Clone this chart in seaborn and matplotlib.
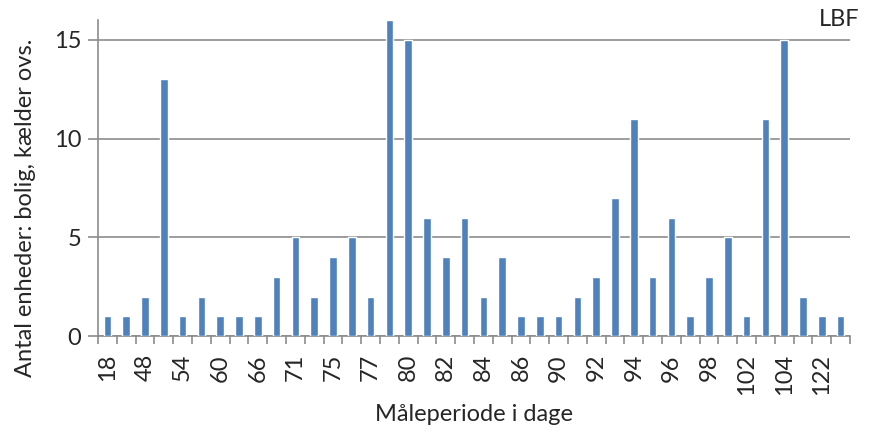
import matplotlib
matplotlib.use("Agg")
import matplotlib.pyplot as plt
import seaborn as sns
import numpy as np
import pandas as pd

# Categories (every other label is shown on the axis; hidden ones are estimates)
categories = ["18", "44", "48", "52", "54", "58", "60", "64", "66", "70",
              "71", "74", "75", "76", "77", "78", "80", "81", "82", "83",
              "84", "85", "86", "88", "90", "91", "92", "93", "94", "95",
              "96", "97", "98", "100", "102", "103", "104", "110", "122", "130"]
values = [1, 1, 2, 13, 1, 2, 1, 1, 1, 3,
          5, 2, 4, 5, 2, 16, 15, 6, 4, 6,
          2, 4, 1, 1, 1, 2, 3, 7, 11, 3,
          6, 1, 3, 5, 1, 11, 15, 2, 1, 1]
y_ticks = [0, 5, 10, 15]

sns.set_theme(style="white")
plt.rcParams['font.family'] = ['Lato', 'DejaVu Sans']

FS = 17
df = pd.DataFrame({"cat": categories, "val": values})

fig = plt.figure(figsize=(8.73, 4.37), dpi=100)
ax = fig.add_axes([0.1123, 0.2311, 0.8614, 0.7229])

sns.barplot(data=df, x="cat", y="val", order=categories, color="#4F81BD",
            saturation=1, width=0.4, ax=ax, zorder=3)

ax.set_ylim(0, 16)
ax.set_xlim(-0.5, len(categories) - 0.5)
ax.set_yticks(y_ticks)
ax.set_yticklabels([str(t) for t in y_ticks], fontsize=FS)
ax.yaxis.grid(True, color="#8C8C8C", linewidth=1.2, zorder=0)
ax.set_axisbelow(True)

idx = np.arange(0, len(categories), 2)
ax.set_xticks(idx)
ax.set_xticklabels([categories[i] for i in idx], rotation=90, fontsize=FS)
ax.set_xticks(np.arange(-0.5, len(categories), 1), minor=True)
ax.tick_params(axis="x", which="major", length=0, pad=13)
ax.tick_params(axis="x", which="minor", length=6, width=1.2, color="#8C8C8C", direction="out", bottom=True)
ax.tick_params(axis="y", which="major", length=7, width=1.2, color="#8C8C8C", direction="out", left=True, pad=5)

for s in ["top", "right"]:
    ax.spines[s].set_visible(False)
for s in ["left", "bottom"]:
    ax.spines[s].set_color("#8C8C8C")
    ax.spines[s].set_linewidth(1.2)

ax.set_xlabel("Måleperiode i dage", fontsize=FS)
ax.set_ylabel("Antal enheder: bolig, kælder ovs.", fontsize=FS)
ax.yaxis.set_label_coords(-0.083, 0.407)
ax.xaxis.set_label_coords(0.5, -0.215)

fig.text(0.985, 0.955, "LBF", ha="right", va="center", fontsize=FS)

fig.savefig("out.png", dpi=100)
